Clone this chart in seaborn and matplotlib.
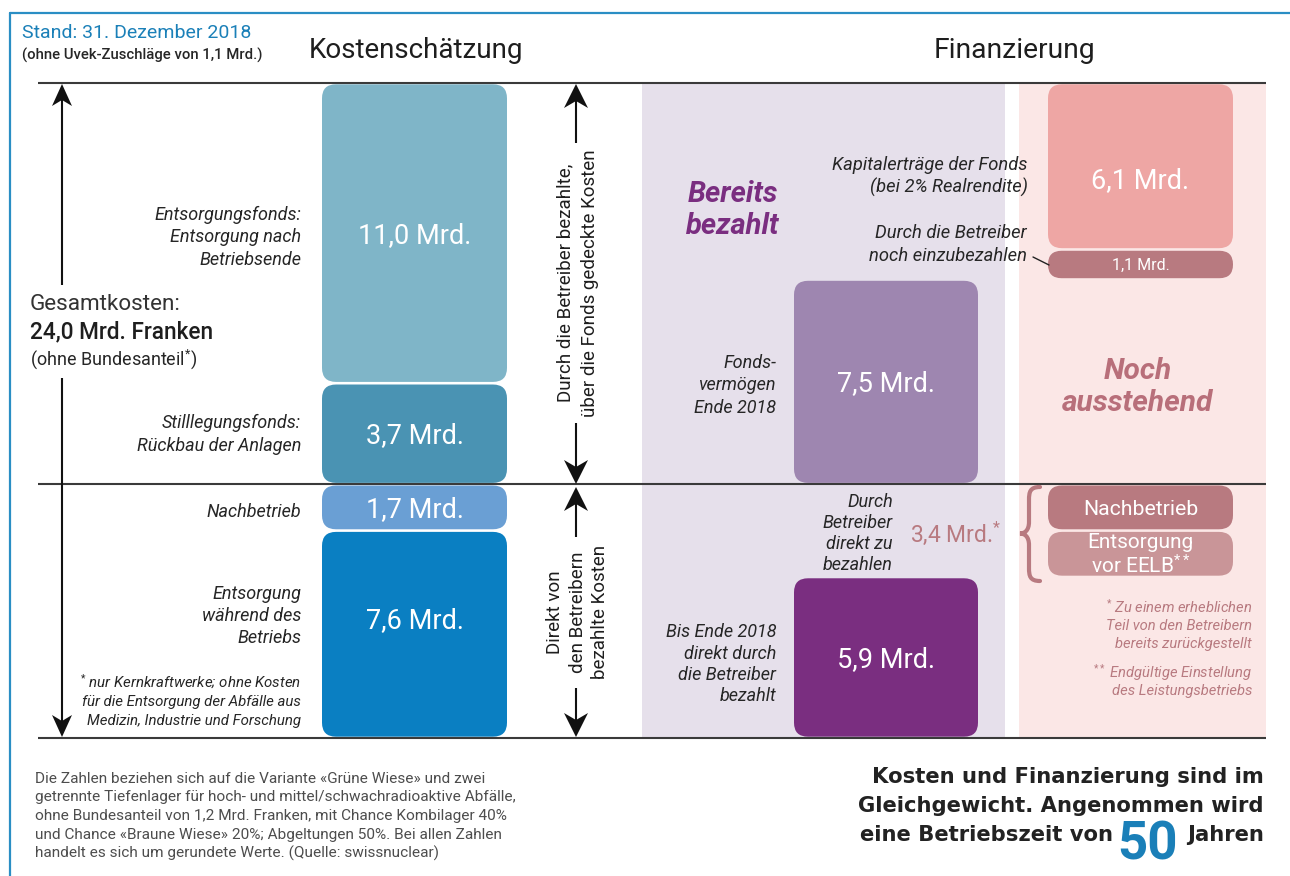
import numpy as np
import matplotlib
matplotlib.use("Agg")
import matplotlib.pyplot as plt
import seaborn as sns
from matplotlib.patches import FancyBboxPatch, Rectangle, Polygon, PathPatch
from matplotlib.path import Path

sns.set_theme(style="white")
plt.rcParams['font.family'] = ['Roboto', 'DejaVu Sans']
plt.rcParams['mathtext.fontset'] = 'custom'
plt.rcParams['mathtext.rm'] = 'Roboto'
plt.rcParams['mathtext.it'] = 'Roboto:italic'
plt.rcParams['mathtext.bf'] = 'Roboto:bold'

# ---------------- data (Mrd. Franken) ----------------
total_kosten = 24.0
kosten_names = ["Entsorgung während des Betriebs", "Nachbetrieb",
                "Stilllegungsfonds", "Entsorgungsfonds"]
kosten_values = [7.6, 1.7, 3.7, 11.0]          # bottom -> top
bezahlt_direkt = 5.9        # Bis Ende 2018 direkt durch die Betreiber bezahlt
offen_direkt = 3.4          # Durch Betreiber direkt zu bezahlen
fondsvermoegen = 7.5        # Fondsvermögen Ende 2018
einzuzahlen = 1.1           # Durch die Betreiber noch einzubezahlen
kapitalertraege = 6.1       # Kapitalerträge der Fonds
nachbetrieb_offen = 1.7
eelb_offen = round(offen_direkt - nachbetrieb_offen, 1)
betriebszeit = 50
bundesanteil = 1.2
uvek = 1.1

def fmt(v):
    return f"{v:.1f}".replace(".", ",") + " Mrd."

# ---------------- canvas ----------------
fig = plt.figure(figsize=(12.9, 8.76), dpi=100)
ax = fig.add_axes([0, 0, 1, 1])
W_PX, H_PX = 1290, 876
BASE_PX, TOP_PX = 738, 83
K = (BASE_PX - TOP_PX) / total_kosten      # px per Mrd.

def Y(py):
    return (BASE_PX - py) / K

def PY(v):
    return BASE_PX - v * K

DARK = '#262626'
LINE = '#3a3a3a'
ROSE = '#b87a80'
PURPLE = '#7a2e80'
BLUE = '#1b80b8'

def lines(px, pyc, strs, size, spacing, ha='left', **kw):
    n = len(strs)
    fpx = size * 100 / 72
    for i, s in enumerate(strs):
        py = pyc + (i - (n - 1) / 2) * spacing
        ax.text(px, Y(py + 0.355 * fpx), s, fontsize=size, ha=ha,
                va='baseline', zorder=6, **kw)

def vtext(pxc, pyc, strs, size, spacing, **kw):
    n = len(strs)
    fpx = size * 100 / 72
    for i, s in enumerate(strs):
        px = pxc + (i - (n - 1) / 2) * spacing
        ax.text(px + 0.355 * fpx, Y(pyc), s, rotation=90, rotation_mode='anchor',
                ha='center', va='baseline', fontsize=size, zorder=6, **kw)

# background bands
ax.add_patch(Rectangle((642, 0), 1005 - 642, total_kosten, fc='#e6e0eb', ec='none', zorder=0))
ax.add_patch(Rectangle((1019, 0), 1266 - 1019, total_kosten, fc='#fbe7e6', ec='none', zorder=0))

# ---------------- segments ----------------
segments = []
kb = np.concatenate([[0], np.cumsum(kosten_values)[:-1]])
kosten_colors = ['#0a7fc2', '#6a9fd4', '#4a93b3', '#7fb5c8']
kosten_dy = [-16, 0, 0, 0]
for v, b, c, d in zip(kosten_values, kb, kosten_colors, kosten_dy):
    segments.append(dict(xc=414.5, w=185, bottom=b, value=v, color=c,
                         label=fmt(v), size=19.5, dy=d))

segments.append(dict(xc=886, w=184, bottom=0, value=bezahlt_direkt, color=PURPLE,
                     label=fmt(bezahlt_direkt), size=19.5, dy=0))
segments.append(dict(xc=886, w=184, bottom=bezahlt_direkt + offen_direkt, value=fondsvermoegen,
                     color='#9e86b0', label=fmt(fondsvermoegen), size=19.5, dy=0))
segments.append(dict(xc=1140.5, w=185, bottom=bezahlt_direkt, value=eelb_offen, color='#c99598',
                     label="Entsorgung\nvor EELB$^{**}$", size=15, dy=0))
segments.append(dict(xc=1140.5, w=185, bottom=bezahlt_direkt + eelb_offen, value=nachbetrieb_offen,
                     color=ROSE, label="Nachbetrieb", size=15.3, dy=0))
b_ein = bezahlt_direkt + offen_direkt + fondsvermoegen
segments.append(dict(xc=1140.5, w=185, bottom=b_ein, value=einzuzahlen, color=ROSE,
                     label=fmt(einzuzahlen), size=11.5, dy=0))
segments.append(dict(xc=1140.5, w=185, bottom=b_ein + einzuzahlen, value=kapitalertraege,
                     color='#eea6a4', label=fmt(kapitalertraege), size=19.5, dy=12))

GAP = 1.3 / K
for s in segments:
    sns.barplot(x=[s['xc']], y=[s['value']], native_scale=True, width=s['w'],
                color=s['color'], saturation=1, errorbar=None, orient='x', ax=ax)
    p = ax.patches[-1]
    x0, w0, h0 = p.get_x(), p.get_width(), p.get_height()
    p.remove()
    hh = h0 - 2 * GAP
    r = min(14, hh * K / 2 - 0.2)
    ax.add_patch(FancyBboxPatch((x0, s['bottom'] + GAP), w0, hh,
                                boxstyle=f"round,pad=0,rounding_size={r}",
                                mutation_aspect=1 / K, fc=s['color'], ec='none', zorder=2))
    pyc = PY(s['bottom'] + s['value'] / 2) + s['dy']
    if "\n" in s['label']:
        ax.text(x0 + w0 / 2, Y(pyc + 1), s['label'], fontsize=s['size'], ha='center',
                va='center', multialignment='center', linespacing=1.12,
                color='white', zorder=6)
    else:
        lines(x0 + w0 / 2, pyc, [s['label']], s['size'], 0, ha='center', color='white')

# ---------------- lines & arrows ----------------
direkt_total = kosten_values[0] + kosten_values[1]
ax.hlines([total_kosten, direkt_total, 0], 38, 1266, color=LINE, lw=1.5, zorder=3)

def head(x, py_tip, up, L=24, Wd=12, N=17):
    s = 1 if up else -1
    pts = [(x, py_tip), (x - Wd, py_tip + s * L), (x, py_tip + s * N), (x + Wd, py_tip + s * L)]
    ax.add_patch(Polygon([(a, Y(b)) for a, b in pts], closed=True, fc='#111111',
                         ec='none', zorder=5))

def seg(x, a, b):
    ax.plot([x, x], [Y(a), Y(b)], color='#111111', lw=1.5, zorder=4, solid_capstyle='butt')

# left arrow
seg(62, 95, 285); seg(62, 378, 726)
head(62, 84, True, L=22, Wd=10, N=16); head(62, 737, False, L=22, Wd=10, N=16)
# middle arrows
seg(576, 95, 143); seg(576, 423, 472)
head(576, 84, True); head(576, 484, False)
seg(576, 498, 537); seg(576, 688, 726)
head(576, 487, True); head(576, 737, False)

# frame
ax.plot([10, 10], [Y(13), Y(H_PX)], color='#2a8ec4', lw=1.6, zorder=3)
ax.plot([10, W_PX], [Y(13), Y(13)], color='#2a8ec4', lw=1.6, zorder=3)

# brace
bv = [(1040, 487), (1030, 487), (1029, 492), (1029, 500), (1029, 522),
      (1029, 530), (1025, 533.5), (1020, 533.5),
      (1025, 533.5), (1029, 537), (1029, 545), (1029, 568),
      (1029, 576), (1030, 581), (1040, 581)]
bc = [Path.MOVETO, Path.CURVE4, Path.CURVE4, Path.CURVE4, Path.LINETO,
      Path.CURVE4, Path.CURVE4, Path.CURVE4,
      Path.CURVE4, Path.CURVE4, Path.CURVE4, Path.LINETO,
      Path.CURVE4, Path.CURVE4, Path.CURVE4]
ax.add_patch(PathPatch(Path([(a, Y(b)) for a, b in bv], bc), fc='none', ec=ROSE,
                       lw=3, zorder=4, capstyle='round'))
# leader line
ax.plot([1033, 1049], [Y(257), Y(265)], color='#222222', lw=1.0, zorder=4)

# ---------------- texts ----------------
lines(22, 31, ["Stand: 31. Dezember 2018"], 14, 0, color=BLUE)
lines(22, 54, [f"(ohne Uvek-Zuschläge von {uvek:.1f}".replace(".", ",") + " Mrd.)"], 10.7, 0,
      color=DARK, fontweight='medium')
lines(416, 48, ["Kostenschätzung"], 20, 0, ha='center', color='#1e1e1e')
lines(1014, 48, ["Finanzierung"], 20.3, 0, ha='center', color='#1e1e1e')

it = dict(style='italic', color=DARK)
lines(301, 236, ["Entsorgungsfonds:", "Entsorgung nach", "Betriebsende"], 13, 22.5, ha='right', **it)
lines(301, 433, ["Stilllegungsfonds:", "Rückbau der Anlagen"], 13, 22.5, ha='right', **it)
lines(301, 511, ["Nachbetrieb"], 13, 0, ha='right', **it)
lines(301, 615, ["Entsorgung", "während des", "Betriebs"], 13, 22, ha='right', **it)
lines(301, 701, ["$^{*}$ nur Kernkraftwerke; ohne Kosten", "für die Entsorgung der Abfälle aus",
                 "Medizin, Industrie und Forschung"], 10.8, 18.5, ha='right', **it)

lines(30, 302, ["Gesamtkosten:"], 16.2, 0, color='#333333')
lines(30, 330, [fmt(total_kosten) + " Franken"], 16.3, 0, color='#1e1e1e', fontweight='medium')
lines(30, 358, ["(ohne Bundesanteil$^{*}$)"], 13, 0, color=DARK)

vtext(576, 283, ["Durch die Betreiber bezahlte,", "über die Fonds gedeckte Kosten"], 13.5, 25, color='#1e1e1e')
vtext(576, 612, ["Direkt von", "den Betreibern", "bezahlte Kosten"], 13.5, 22.5, color='#1e1e1e')

lines(733, 208, ["Bereits", "bezahlt"], 21, 32, ha='center', color=PURPLE,
      fontweight='bold', style='italic')
lines(1138, 384, ["Noch", "ausstehend"], 21.5, 32, ha='center', color='#b86f7a',
      fontweight='bold', style='italic')

lines(1028, 175, ["Kapitalerträge der Fonds", "(bei 2% Realrendite)"], 13.2, 23, ha='right', **it)
lines(1027, 243, ["Durch die Betreiber", "noch einzubezahlen"], 13.2, 23, ha='right', **it)
lines(776, 384, ["Fonds-", "vermögen", "Ende 2018"], 13, 22.5, ha='right', **it)
lines(893, 532, ["Durch", "Betreiber", "direkt zu", "bezahlen"], 13, 21, ha='right', **it)
lines(910, 534, [fmt(offen_direkt) + "$^{*}$"], 16.5, 0, color=ROSE)
lines(776, 663, ["Bis Ende 2018", "direkt durch", "die Betreiber", "bezahlt"], 13, 21.3, ha='right', **it)

rit = dict(style='italic', color=ROSE)
lines(1252, 625, ["$^{*}$ Zu einem erheblichen", "Teil von den Betreibern",
                  "bereits zurückgestellt"], 10.6, 18, ha='right', **rit)
lines(1252, 681, ["$^{**}$ Endgültige Einstellung", "des Leistungsbetriebs"], 10.6, 18, ha='right', **rit)

para = ["Die Zahlen beziehen sich auf die Variante «Grüne Wiese» und zwei",
        "getrennte Tiefenlager für hoch- und mittel/schwachradioaktive Abfälle,",
        f"ohne Bundesanteil von {bundesanteil:.1f}".replace(".", ",") +
        " Mrd. Franken, mit Chance Kombilager 40%",
        "und Chance «Braune Wiese» 20%; Abgeltungen 50%. Bei allen Zahlen",
        "handelt es sich um gerundete Werte. (Quelle: swissnuclear)"]
lines(35, 814.5, para, 11.1, 18.6, color='#4d4d4d')

bold = dict(fontweight='bold', color='#222222', family=['DejaVu Sans'])
lines(1264, 776, ["Kosten und Finanzierung sind im"], 15.2, 0, ha='right', **bold)
lines(1264, 805, ["Gleichgewicht. Angenommen wird"], 15.2, 0, ha='right', **bold)
lines(1113, 834, ["eine Betriebszeit von"], 15.2, 0, ha='right', **bold)
lines(1264, 834, ["Jahren"], 15.2, 0, ha='right', **bold)
ax.text(1178, Y(859), str(betriebszeit), fontsize=38, fontweight='bold', color='#1a7fb8',
        ha='right', va='baseline', zorder=6)

ax.set_xlim(0, W_PX)
ax.set_ylim(Y(H_PX), Y(0))
ax.set_axis_off()
fig.savefig("out.png", dpi=100, facecolor='white')
